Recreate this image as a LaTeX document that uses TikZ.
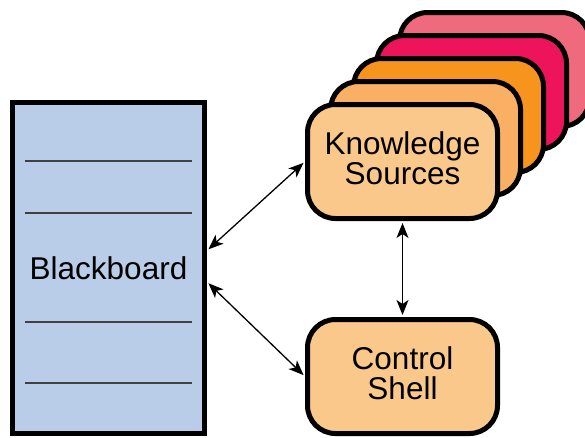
\documentclass[tikz,border=0pt]{standalone}
\usepackage{fontspec}
\setmainfont{Liberation Sans}
\usepackage{xcolor}
\usepackage{tikz}
\usetikzlibrary{arrows.meta, positioning}

\definecolor{boardblue}{HTML}{B9CDE8}
\definecolor{ksone}{HTML}{FBC88B}
\definecolor{kstwo}{HTML}{F9B064}
\definecolor{ksthree}{HTML}{F7941E}
\definecolor{ksfour}{HTML}{ED145B}
\definecolor{ksfive}{HTML}{F06A7E}

\begin{document}
\begin{tikzpicture}[x=1pt, y=-1pt,
    >={Stealth[length=15pt, width=12pt, inset=4pt]},
    txt/.style={font=\fontsize{31.5}{30}\selectfont, align=center},
    ksbox/.style={txt, draw, line width=5pt, rounded corners=28pt,
        minimum width=190pt, minimum height=114pt, text depth=6pt},
    board/.style={txt, draw, line width=5pt, fill=boardblue,
        minimum width=192pt, minimum height=331pt},
    rule/.style={line width=1.5pt, black!75},
    link/.style={<->, line width=1.3pt, shorten <=2pt, shorten >=2pt}]
    \useasboundingbox (0,0) rectangle (585,437);

    % 1. Blackboard
    \node[board] (bb) at (108.5,268) {Blackboard};
    \foreach \y in {161,213,322,383}
        \draw[rule] (25,\y) -- (192,\y);

    % 2. Knowledge sources (stack, back to front)
    \foreach \i/\c in {4/ksfive, 3/ksfour, 2/ksthree, 1/kstwo}
        \node[ksbox, fill=\c] (ks\i) at ({402.5+23*\i},{161.5-23*\i}) {};
    \node[ksbox, fill=ksone] (ks) at (402.5,161.5) {Knowledge\\Sources};

    % 3. Control shell
    \node[ksbox, fill=ksone] (cs) at (402.5,376.5) {Control\\Shell};

    % 4. Arrows
    \draw[link] (ks.west) -- (bb.10);
    \draw[link] (bb.-8) -- (cs.west);
    \draw[link] (ks.south) -- (cs.north);
\end{tikzpicture}
\end{document}
